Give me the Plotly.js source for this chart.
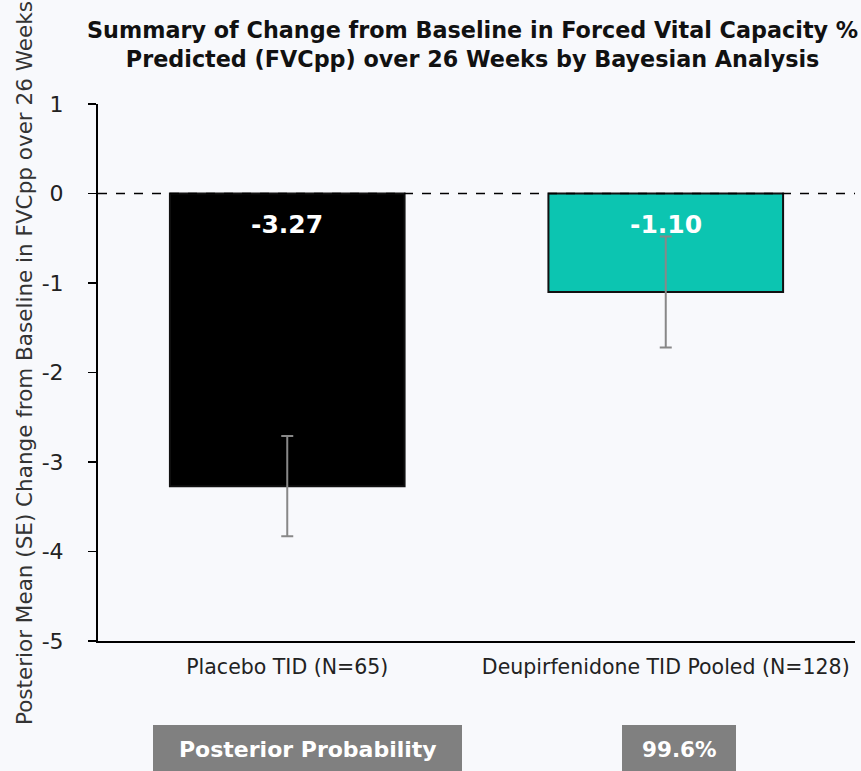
<!DOCTYPE html>
<html>
<head>
<meta charset="utf-8">
<script src="https://cdn.plot.ly/plotly-3.0.1.min.js"></script>
<style>html,body{margin:0;padding:0;background:#f8f9fc;}</style>
</head>
<body>
<div id="chart" style="width:861px;height:771px;"></div>
<script>
const categories = ["Placebo TID (N=65)", "Deupirfenidone TID Pooled (N=128)"];
const means = [-3.27, -1.10];
const se = [0.56, 0.62];
const barColors = ["#000000", "#0cc5b1"];
const valueLabels = ["-3.27", "-1.10"];
const yTicks = [1, 0, -1, -2, -3, -4, -5];
const probLabel = "Posterior Probability";
const probValue = "99.6%";
const titleText = "Summary of Change from Baseline in Forced Vital Capacity %<br>Predicted (FVCpp) over 26 Weeks by Bayesian Analysis";
const yTitleText = "Posterior Mean (SE) Change from Baseline in FVCpp over 26 Weeks";

const font = "'DejaVu Sans', sans-serif";

const trace = {
  type: "bar",
  x: categories,
  y: means,
  width: 0.62,
  marker: { color: barColors, line: { color: "#111", width: 2 } },
  error_y: { type: "data", array: se, visible: true, color: "#888888", thickness: 2, width: 6 },
  hoverinfo: "skip"
};

const annotations = categories.map((c, i) => ({
  x: c, y: 0, xref: "x", yref: "y", yshift: -31,
  text: "<b>" + valueLabels[i] + "</b>", showarrow: false,
  xanchor: "center", yanchor: "middle",
  font: { family: font, size: 25, color: "#ffffff" }
}));
annotations.push(
  { x: (153 - 98 + (462 - 153) / 2) / 757, y: -(749 - 641) / 537, xref: "paper", yref: "paper",
    xanchor: "center", yanchor: "middle", text: "<b>" + probLabel + "</b>",
    showarrow: false, font: { family: font, size: 22, color: "#ffffff" } },
  { x: (679 - 98) / 757, y: -(749 - 641) / 537, xref: "paper", yref: "paper",
    xanchor: "center", yanchor: "middle", text: "<b>" + probValue + "</b>",
    showarrow: false, font: { family: font, size: 21.5, color: "#ffffff" } },
  { x: (472 - 98) / 757, y: (641 - 44.5) / 537, xref: "paper", yref: "paper",
    xanchor: "center", yanchor: "middle", text: "<b>" + titleText + "</b>",
    showarrow: false, font: { family: font, size: 22.3, color: "#111" } },
  { x: (24 - 98) / 757, y: (641 - 363) / 537, xref: "paper", yref: "paper", textangle: -90,
    xanchor: "center", yanchor: "middle", text: yTitleText,
    showarrow: false, font: { family: font, size: 21.5, color: "#333" } }
);

const layout = {
  width: 861, height: 771,
  margin: { l: 98, r: 6, t: 104, b: 130 },
  paper_bgcolor: "#f8f9fc",
  plot_bgcolor: "rgba(0,0,0,0)",
  showlegend: false,
  xaxis: {
    range: [-0.5, 1.5],
    showline: true, linecolor: "#000", linewidth: 2,
    ticks: "", showgrid: false, zeroline: false,
    tickfont: { family: font, size: 20.5, color: "#222" },
    ticklabelstandoff: 6,
    automargin: false
  },
  yaxis: {
    range: [-5, 1], tickvals: yTicks, ticktext: yTicks.map(String),
    showline: true, linecolor: "#000", linewidth: 2,
    ticks: "outside", ticklen: 8, tickwidth: 1.5, tickcolor: "#000",
    showgrid: false, zeroline: false,
    tickfont: { family: font, size: 22, color: "#222" },
    ticklabelstandoff: 20,
    automargin: false
  },
  shapes: [
    { type: "line", xref: "paper", yref: "y", x0: 0, x1: 1, y0: 0, y1: 0,
      line: { color: "#000", width: 1.5, dash: "dash" }, layer: "above" },
    { type: "rect", xref: "paper", yref: "paper", x0: (153 - 98) / 757, x1: (462 - 98) / 757,
      y0: -(725 - 641) / 537, y1: -(775 - 641) / 537,
      fillcolor: "#808080", line: { width: 0 } },
    { type: "rect", xref: "paper", yref: "paper", x0: (622 - 98) / 757, x1: (736 - 98) / 757,
      y0: -(725 - 641) / 537, y1: -(775 - 641) / 537,
      fillcolor: "#808080", line: { width: 0 } }
  ],
  annotations: annotations
};

Plotly.newPlot("chart", [trace], layout, { displayModeBar: false, staticPlot: true });
</script>
</body>
</html>
